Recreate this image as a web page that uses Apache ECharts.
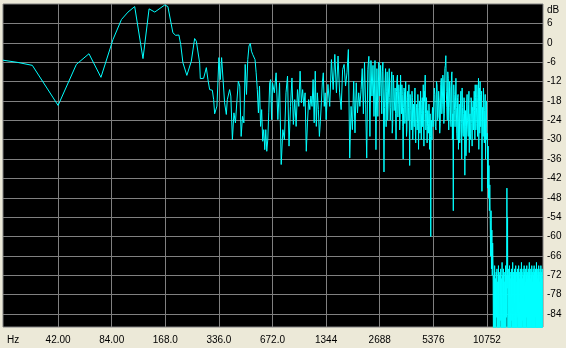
<!DOCTYPE html>
<html><head><meta charset="utf-8">
<script src="https://cdn.jsdelivr.net/npm/echarts@6/dist/echarts.min.js"></script>
<style>html,body{margin:0;padding:0;background:#ECE9D8;}#c{width:566px;height:348px;}</style>
</head><body><div id="c"></div>
<script>
// Tick values and labels
const xTickValues = [42, 84, 168, 336, 672, 1344, 2688, 5376, 10752];
const xTickLabels = ['42.00', '84.00', '168.0', '336.0', '672.0', '1344', '2688', '5376', '10752'];
const yTickValues = [6, 0, -6, -12, -18, -24, -30, -36, -42, -48, -54, -60, -66, -72, -78, -84];

// Low band (Hz / dB)
const lowFreq = [20.6,25,30.1,42,53.2,62.6,73.1,85.4,95.3,103.7,113.1,115.7,125.9,136.2,146.6,166.8,173.7,185.3,192,200.3,205,211,222,235.2,245.5,250.9,261.9,264.2,275.8,285.6,291.6,298,308.7,313.9,318,327.6,336,342.1,347.9,361.7,369.8,374.6,385.9];
const lowDb = [-5.4,-6.1,-7.0,-19.4,-6.7,-3.4,-10.7,1.0,7.2,9.5,11.2,11.4,-4.9,10.5,9.5,11.7,11.2,3.1,2.3,2.4,-0.5,-6.2,-10.1,-5.7,1.3,0.5,-6.2,-11.1,-11.0,-7.7,-11.4,-14.5,-14.7,-17.6,-22,-19.6,-4.6,-11.4,-4.6,-18.6,-22.2,-17.6,-14.5];

// 392 - 672 Hz
const bandBFreq = [392,400,408,416,424,432,440,448,456,464,472,480,488,496,504,512,520,528,536,544,552,560,568,576,584,592,600,608,616,624,632,640,648,656,664,672];
const bandBDb = [-16.5,-30,-21.7,-24.8,-18.1,-11.9,-13.4,-29,-22.8,-24.8,-6.7,-16,-5.2,-1,-0.2,-2.6,-3.6,-4.1,-5.2,-9.3,-14.5,-21.7,-13.4,-25.9,-20.7,-30.5,-26.9,-33.1,-26.9,-33.6,-30,-21.7,-12.4,-11.4,-23.8,-12.4];

// 688 - 1344 Hz
const bandCFreq = [688,704,720,736,752,768,784,800,816,832,848,864,880,896,912,928,944,960,976,992,1008,1024,1040,1056,1072,1088,1104,1120,1136,1152,1168,1184,1200,1216,1232,1248,1264,1280,1296,1312,1328,1344];
const bandCDb = [-15.5,-9.3,-23.8,-12.4,-37.7,-26.9,-30,-15.5,-10.3,-32,-19.7,-10.9,-25.3,-17.6,-25.9,-14.5,-19.7,-8.8,-18.6,-14.5,-19.7,-15.5,-33.6,-24.8,-17.6,-20.7,-16.5,-19.7,-11.4,-24.8,-8.8,-25.9,-15.5,-20.7,-29,-24.3,-18.6,-12.4,-9.3,-19.7,-15.5,-23.8];

// 1376 - 2688 Hz
const bandDFreq = [1376,1408,1440,1472,1504,1536,1568,1600,1632,1664,1696,1728,1760,1792,1824,1856,1888,1920,1952,1984,2016,2048,2080,2112,2144,2176,2208,2240,2272,2304,2336,2368,2400,2432,2464,2496,2528,2560,2592,2624,2656,2688];
const bandDDb = [-12.9,-19.7,-5.2,-14.5,-3.6,-15.5,-4.1,-15.5,-20.7,-8.3,-6.7,-13.4,-9.3,-2.1,-35.7,-19.7,-26.9,-11.9,-27.9,-12.4,-21.7,-15.5,-19.7,-14.5,-8,-22,-6,-19,-35.7,-8.3,-4.2,-29,-5.5,-16.5,-7,-22.8,-5.5,-33.1,-8,-22.8,-6,-16.5];

// 2720 - 5360 Hz
const bandEFreq = [2720,2760,2800,2840,2880,2920,2960,3000,3040,3080,3120,3160,3200,3240,3280,3320,3360,3400,3440,3480,3520,3560,3600,3640,3680,3720,3760,3800,3840,3880,3920,3960,4000,4040,4080,4120,4160,4200,4240,4280,4320,4360,4400,4440,4480,4520,4560,4600,4640,4680,4720,4760,4800,4840,4880,4920,4960,5000,5040,5080,5120,5160,5200,5240,5280,5320,5360];
const bandEDb = [-7,-22,-6,-40,-12,-26,-9,-19,-8,-24,-12,-28,-10,-21,-14,-30,-11,-23,-13,-27,-10,-22,-16,-36,-14,-25,-12,-29,-17,-24,-13,-38,-18,-27,-15,-30,-19,-26,-14,-31,-20,-27,-16,-33,-21,-28,-15,-30,-19,-26,-13,-32,-18,-10,-27,-17,-31,-21,-28,-19,-33,-22,-60,-24,-30,-20,-26];
// 2740 - 5340 Hz (in-between bins)
const bandE2Freq = [2740,2780,2820,2860,2900,2940,2980,3020,3060,3100,3140,3180,3220,3260,3300,3340,3380,3420,3460,3500,3540,3580,3620,3660,3700,3740,3780,3820,3860,3900,3940,3980,4020,4060,4100,4140,4180,4220,4260,4300,4340,4380,4420,4460,4500,4540,4580,4620,4660,4700,4740,4780,4820,4860,4900,4940,4980,5020,5060,5100,5140,5180,5220,5260,5300,5340];
const bandE2Db = [-14,-9,-18,-20,-8,-15,-24,-12,-17,-20,-9,-25,-12,-18,-22,-15,-10,-19,-15,-23,-18,-13,-26,-20,-15,-22,-19,-27,-15,-20,-24,-16,-21,-24,-17,-25,-22,-18,-27,-23,-19,-25,-20,-24,-18,-24,-20,-22,-17,-24,-21,-15,-14,-22,-25,-20,-26,-23,-25,-21,-27,-29,-31,-27,-22,-24];

// 5440 - 10720 Hz
const bandFFreq = [5440,5520,5600,5680,5760,5840,5920,6000,6080,6160,6240,6320,6400,6480,6560,6640,6720,6800,6880,6960,7040,7120,7200,7280,7360,7440,7520,7600,7680,7760,7840,7920,8000,8080,8160,8240,8320,8400,8480,8560,8640,8720,8800,8880,8960,9040,9120,9200,9280,9360,9440,9520,9600,9680,9760,9840,9920,10000,10080,10160,10240,10320,10400,10480,10560,10640,10720];
const bandFDb = [-14,-26,-12,-24,-15,-28,-13,-22,-10,-25,-8,-4,-20,-9,-27,-12,-24,-10,-30,-52,-16,-26,-11,-28,-17,-33,-19,-27,-15,-36,-20,-29,-17,-41,-21,-30,-16,-27,-19,-34,-22,-28,-18,-32,-21,-27,-15,-30,-17,-25,-13,-29,-16,-33,-14,-12,-26,-18,-46,-20,-29,-17,-31,-19,-36,-22,-30];
// 5400 - 10680 Hz (in-between bins)
const bandF2Freq = [5400,5480,5560,5640,5720,5800,5880,5960,6040,6120,6200,6280,6360,6440,6520,6600,6680,6760,6840,6920,7000,7080,7160,7240,7320,7400,7480,7560,7640,7720,7800,7880,7960,8040,8120,8200,8280,8360,8440,8520,8600,8680,8760,8840,8920,9000,9080,9160,9240,9320,9400,9480,9560,9640,9720,9800,9880,9960,10040,10120,10200,10280,10360,10440,10520,10600,10680];
const bandF2Db = [-20,-16,-27,-13,-23,-18,-25,-11,-19,-12,-22,-7,-15,-24,-11,-20,-14,-26,-9,-22,-13,-21,-18,-20,-30,-16,-24,-31,-18,-25,-14,-28,-22,-19,-26,-35,-18,-24,-29,-15,-23,-30,-17,-25,-20,-18,-24,-21,-13,-27,-20,-17,-25,-11,-22,-28,-16,-21,-15,-30,-24,-14,-26,-21,-16,-25,-18];

// 10800 - 11580 Hz (roll-off)
const dropFreq = [10800,10860,10920,10980,11040,11100,11160,11220,11280,11340,11400,11460,11520,11580];
const dropDb = [-28,-45,-32,-48,-38,-52,-44,-55,-66,-52,-70,-58,-72,-62];

// 11640 - 22020 Hz (noise floor)
const floorFreq = [
11640,11700,11760,11820,11880,11940,12000,12060,12120,12180,
12240,12300,12360,12420,12480,12540,12600,12660,12720,12780,
12840,12900,12960,13020,13080,13140,13200,13260,13320,13380,
13440,13500,13560,13620,13680,13740,13800,13860,13920,13980,
14040,14100,14160,14220,14280,14340,14400,14460,14520,14580,
14640,14700,14760,14820,14880,14940,15000,15060,15120,15180,
15240,15300,15360,15420,15480,15540,15600,15660,15720,15780,
15840,15900,15960,16020,16080,16140,16200,16260,16320,16380,
16440,16500,16560,16620,16680,16740,16800,16860,16920,16980,
17040,17100,17160,17220,17280,17340,17400,17460,17520,17580,
17640,17700,17760,17820,17880,17940,18000,18060,18120,18180,
18240,18300,18360,18420,18480,18540,18600,18660,18720,18780,
18840,18900,18960,19020,19080,19140,19200,19260,19320,19380,
19440,19500,19560,19620,19680,19740,19800,19860,19920,19980,
20040,20100,20160,20220,20280,20340,20400,20460,20520,20580,
20640,20700,20760,20820,20880,20940,21000,21060,21120,21180,
21240,21300,21360,21420,21480,21540,21600,21660,21720,21780,
21840,21900,21960,22020];
const floorDb = [
-70,-96,-72,-104,-69,-93,-73,-108,-71,-85,
-70,-99,-74,-102,-69,-95,-72,-110,-71,-86,
-70,-100,-73,-94,-68,-105,-72,-97,-70,-101,
-74,-92,-71,-107,-69,-98,-72,-85,-45,-76,
-54,-95,-70,-103,-72,-96,-69,-109,-73,-93,
-71,-100,-70,-86,-72,-104,-68,-97,-71,-102,
-73,-95,-70,-108,-72,-99,-69,-94,-71,-106,
-74,-85,-70,-101,-72,-96,-69,-103,-71,-98,
-73,-110,-70,-93,-72,-100,-68,-105,-71,-86,
-73,-97,-70,-102,-72,-95,-69,-107,-71,-99,
-74,-94,-70,-104,-72,-85,-69,-100,-71,-96,
-73,-109,-70,-98,-72,-93,-68,-103,-71,-97,
-73,-101,-70,-86,-72,-106,-69,-95,-71,-100,
-74,-92,-70,-108,-72,-99,-69,-94,-71,-104,
-73,-85,-70,-97,-72,-102,-68,-96,-71,-110,
-73,-93,-70,-100,-72,-105,-69,-86,-71,-98,
-74,-103,-70,-95,-72,-107,-69,-99,-71,-94,
-73,-101,-70,-96];

function zip(f, d) {
  const out = [];
  const n = Math.min(f.length, d.length);
  for (let i = 0; i < n; i++) out.push([f[i], d[i]]);
  return out;
}
const spectrum = [].concat(
  zip(lowFreq, lowDb), zip(bandBFreq, bandBDb), zip(bandCFreq, bandCDb),
  zip(bandDFreq, bandDDb), zip(bandEFreq, bandEDb), zip(bandE2Freq, bandE2Db),
  zip(bandFFreq, bandFDb), zip(bandF2Freq, bandF2Db),
  zip(dropFreq, dropDb), zip(floorFreq, floorDb)
).sort((a, b) => a[0] - b[0]);

function xLabel(v) {
  let best = 0, bd = Infinity;
  for (let i = 0; i < xTickValues.length; i++) {
    const d = Math.abs(Math.log(v / xTickValues[i]));
    if (d < bd) { bd = d; best = i; }
  }
  return xTickLabels[best];
}

const FONT = 'Liberation Sans, Arial, sans-serif';
const chart = echarts.init(document.getElementById('c'), null, {renderer: 'canvas'});
chart.setOption({
  animation: false,
  backgroundColor: '#ECE9D8',
  grid: {left: 3, top: 4, width: 540, height: 323, show: true, backgroundColor: '#000000', borderColor: '#808080', borderWidth: 1},
  xAxis: {
    type: 'log', logBase: 2, min: 20.6, max: 22200,
    axisLine: {show: false},
    axisTick: {show: false, customValues: xTickValues},
    axisLabel: {customValues: xTickValues, formatter: xLabel, color: '#000', fontFamily: FONT, fontSize: 10, margin: 8},
    splitLine: {show: true, lineStyle: {color: '#808080', width: 1}}
  },
  yAxis: {
    type: 'value', position: 'right', min: -88, max: 12,
    axisLine: {show: false},
    axisTick: {show: false, customValues: yTickValues},
    axisLabel: {customValues: yTickValues, color: '#000', fontFamily: FONT, fontSize: 10, margin: 4},
    splitLine: {show: true, lineStyle: {color: '#808080', width: 1}}
  },
  graphic: [
    {type: 'text', left: 547, top: 5, style: {text: 'dB', fill: '#000', font: '10px ' + FONT}},
    {type: 'text', left: 7, top: 335, style: {text: 'Hz', fill: '#000', font: '10px ' + FONT}}
  ],
  series: [{
    type: 'line', data: spectrum, showSymbol: false, symbol: 'none',
    lineStyle: {color: '#00FFFF', width: 1}, clip: true, silent: true
  }]
});
</script></body></html>
